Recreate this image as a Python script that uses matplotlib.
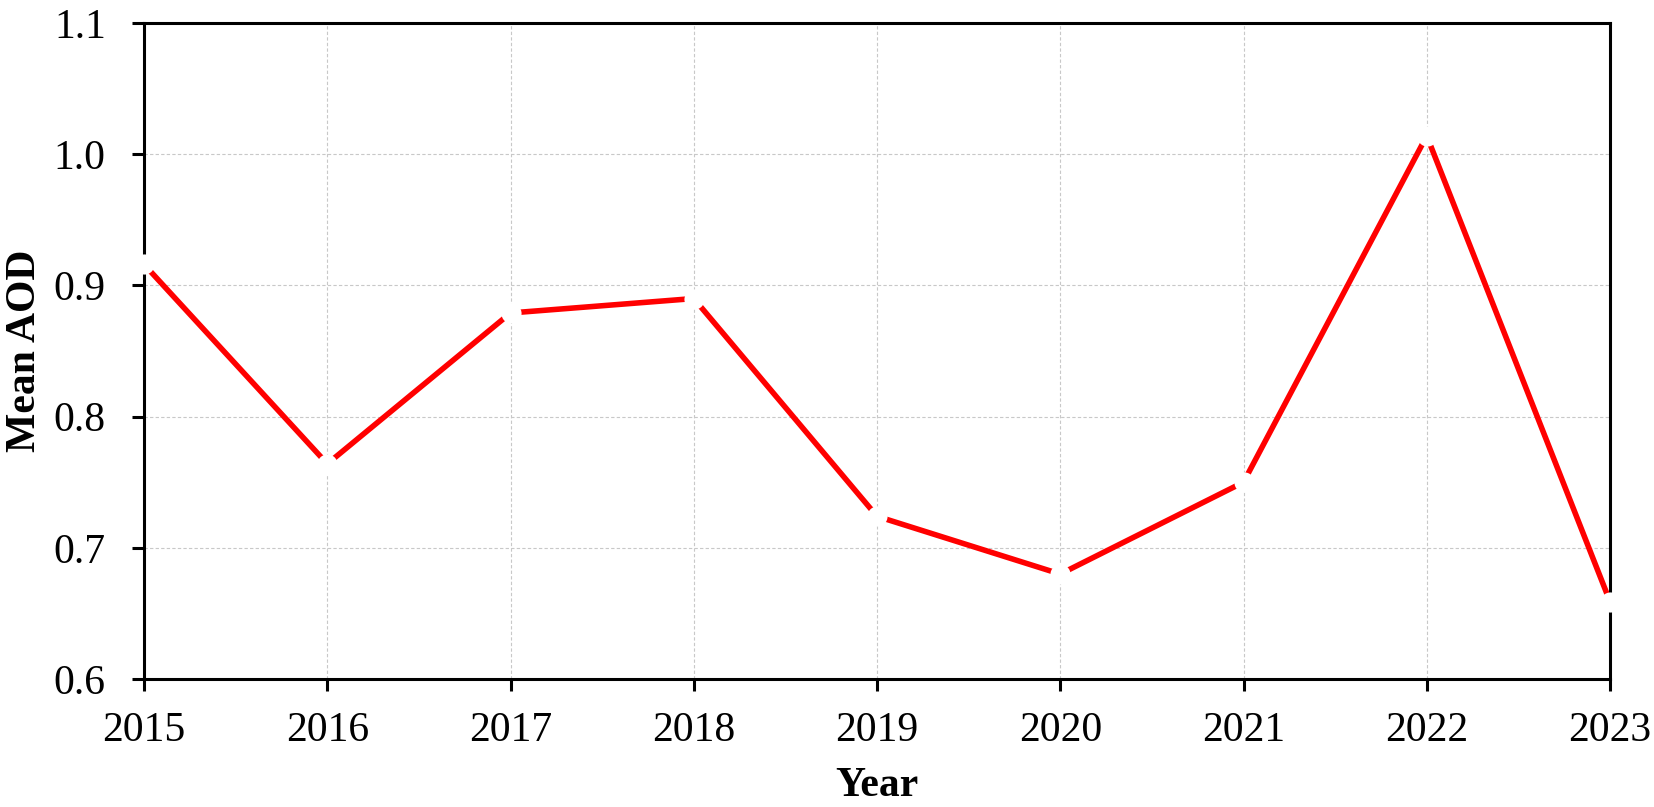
import numpy as np
import matplotlib.pyplot as plt

plt.rcParams['font.family'] = ['Liberation Serif', 'DejaVu Serif']

years = [2015, 2016, 2017, 2018, 2019, 2020, 2021, 2022, 2023]
mean_aod = [0.916, 0.764, 0.879, 0.890, 0.724, 0.680, 0.750, 1.014, 0.659]
y_ticks = [0.6, 0.7, 0.8, 0.9, 1.0, 1.1]

fig = plt.figure(figsize=(16.54, 8.07), dpi=100)
ax = fig.add_axes([0.0871, 0.1586, 0.8863, 0.8129])

ax.plot(years, mean_aod, color='#ff0000', lw=4.0, zorder=3, solid_capstyle='butt')
# white markers break the line at each point (Excel style)
ax.plot(years, mean_aod, ls='none', marker='o', ms=14.5, mfc='white', mec='none',
        zorder=5, clip_on=False)

ax.set_xlim(2015, 2023)
ax.set_ylim(0.6, 1.1)
ax.set_xticks(years)
ax.set_yticks(y_ticks)
ax.set_yticklabels([f'{v:.1f}' for v in y_ticks])

ax.grid(True, color='#c8c8c8', ls=(0, (3, 2)), lw=0.8)
ax.set_axisbelow(True)

for s in ax.spines.values():
    s.set_linewidth(2.2)
    s.set_color('black')
    s.set_zorder(4)

ax.tick_params(axis='both', direction='out', length=8.5, width=2.2, labelsize=30,
               colors='black')
ax.tick_params(axis='x', pad=15)
ax.tick_params(axis='y', pad=19)

ax.set_xlabel('Year', fontsize=30, fontweight='bold', labelpad=12)
ax.set_ylabel('Mean AOD', fontsize=30, fontweight='bold', labelpad=7)

fig.savefig('out.png', dpi=100)
